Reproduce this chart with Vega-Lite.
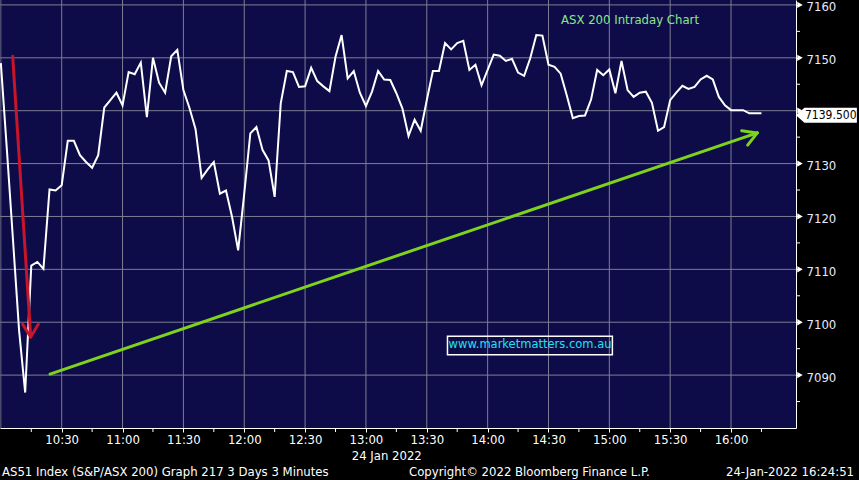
{
  "$schema": "https://vega.github.io/schema/vega-lite/v6.json",
  "width": 796,
  "height": 428,
  "autosize": {"type": "none"},
  "padding": {"left": 0, "top": 0, "right": 63, "bottom": 52},
  "background": "#000000",
  "config": {
    "view": {"fill": "#0e0c48", "stroke": null}
  },
  "datasets": {
    "price": [
      {"t": "2022-01-24T10:00:00Z", "v": 7149.0},
      {"t": "2022-01-24T10:03:00Z", "v": 7132.5},
      {"t": "2022-01-24T10:06:00Z", "v": 7115.5},
      {"t": "2022-01-24T10:09:00Z", "v": 7098.4},
      {"t": "2022-01-24T10:12:00Z", "v": 7086.7},
      {"t": "2022-01-24T10:15:00Z", "v": 7110.7},
      {"t": "2022-01-24T10:18:00Z", "v": 7111.4},
      {"t": "2022-01-24T10:21:00Z", "v": 7110.1},
      {"t": "2022-01-24T10:24:00Z", "v": 7125.1},
      {"t": "2022-01-24T10:27:00Z", "v": 7124.9},
      {"t": "2022-01-24T10:30:00Z", "v": 7125.9},
      {"t": "2022-01-24T10:33:00Z", "v": 7134.3},
      {"t": "2022-01-24T10:36:00Z", "v": 7134.3},
      {"t": "2022-01-24T10:39:00Z", "v": 7131.6},
      {"t": "2022-01-24T10:42:00Z", "v": 7130.3},
      {"t": "2022-01-24T10:45:00Z", "v": 7129.2},
      {"t": "2022-01-24T10:48:00Z", "v": 7131.6},
      {"t": "2022-01-24T10:51:00Z", "v": 7140.6},
      {"t": "2022-01-24T10:54:00Z", "v": 7142.0},
      {"t": "2022-01-24T10:57:00Z", "v": 7143.4},
      {"t": "2022-01-24T11:00:00Z", "v": 7141.0},
      {"t": "2022-01-24T11:03:00Z", "v": 7147.3},
      {"t": "2022-01-24T11:06:00Z", "v": 7146.9},
      {"t": "2022-01-24T11:09:00Z", "v": 7149.1},
      {"t": "2022-01-24T11:12:00Z", "v": 7138.8},
      {"t": "2022-01-24T11:15:00Z", "v": 7150.0},
      {"t": "2022-01-24T11:18:00Z", "v": 7145.3},
      {"t": "2022-01-24T11:21:00Z", "v": 7143.4},
      {"t": "2022-01-24T11:24:00Z", "v": 7150.3},
      {"t": "2022-01-24T11:27:00Z", "v": 7151.5},
      {"t": "2022-01-24T11:30:00Z", "v": 7143.9},
      {"t": "2022-01-24T11:33:00Z", "v": 7140.5},
      {"t": "2022-01-24T11:36:00Z", "v": 7136.5},
      {"t": "2022-01-24T11:39:00Z", "v": 7127.3},
      {"t": "2022-01-24T11:42:00Z", "v": 7128.9},
      {"t": "2022-01-24T11:45:00Z", "v": 7130.3},
      {"t": "2022-01-24T11:48:00Z", "v": 7124.3},
      {"t": "2022-01-24T11:51:00Z", "v": 7124.9},
      {"t": "2022-01-24T11:54:00Z", "v": 7119.9},
      {"t": "2022-01-24T11:57:00Z", "v": 7113.6},
      {"t": "2022-01-24T12:00:00Z", "v": 7124.3},
      {"t": "2022-01-24T12:03:00Z", "v": 7135.7},
      {"t": "2022-01-24T12:06:00Z", "v": 7136.9},
      {"t": "2022-01-24T12:09:00Z", "v": 7132.6},
      {"t": "2022-01-24T12:12:00Z", "v": 7130.6},
      {"t": "2022-01-24T12:15:00Z", "v": 7123.7},
      {"t": "2022-01-24T12:18:00Z", "v": 7141.4},
      {"t": "2022-01-24T12:21:00Z", "v": 7147.5},
      {"t": "2022-01-24T12:24:00Z", "v": 7147.3},
      {"t": "2022-01-24T12:27:00Z", "v": 7144.5},
      {"t": "2022-01-24T12:30:00Z", "v": 7144.6},
      {"t": "2022-01-24T12:33:00Z", "v": 7148.1},
      {"t": "2022-01-24T12:36:00Z", "v": 7145.6},
      {"t": "2022-01-24T12:39:00Z", "v": 7144.6},
      {"t": "2022-01-24T12:42:00Z", "v": 7143.7},
      {"t": "2022-01-24T12:45:00Z", "v": 7150.2},
      {"t": "2022-01-24T12:48:00Z", "v": 7154.3},
      {"t": "2022-01-24T12:51:00Z", "v": 7146.1},
      {"t": "2022-01-24T12:54:00Z", "v": 7147.5},
      {"t": "2022-01-24T12:57:00Z", "v": 7143.4},
      {"t": "2022-01-24T13:00:00Z", "v": 7140.9},
      {"t": "2022-01-24T13:03:00Z", "v": 7143.6},
      {"t": "2022-01-24T13:06:00Z", "v": 7147.5},
      {"t": "2022-01-24T13:09:00Z", "v": 7145.9},
      {"t": "2022-01-24T13:12:00Z", "v": 7145.8},
      {"t": "2022-01-24T13:15:00Z", "v": 7143.3},
      {"t": "2022-01-24T13:18:00Z", "v": 7140.4},
      {"t": "2022-01-24T13:21:00Z", "v": 7135.2},
      {"t": "2022-01-24T13:24:00Z", "v": 7138.3},
      {"t": "2022-01-24T13:27:00Z", "v": 7136.2},
      {"t": "2022-01-24T13:30:00Z", "v": 7142.0},
      {"t": "2022-01-24T13:33:00Z", "v": 7147.5},
      {"t": "2022-01-24T13:36:00Z", "v": 7147.5},
      {"t": "2022-01-24T13:39:00Z", "v": 7152.8},
      {"t": "2022-01-24T13:42:00Z", "v": 7151.6},
      {"t": "2022-01-24T13:45:00Z", "v": 7152.8},
      {"t": "2022-01-24T13:48:00Z", "v": 7153.2},
      {"t": "2022-01-24T13:51:00Z", "v": 7147.7},
      {"t": "2022-01-24T13:54:00Z", "v": 7148.7},
      {"t": "2022-01-24T13:57:00Z", "v": 7144.8},
      {"t": "2022-01-24T14:00:00Z", "v": 7147.7},
      {"t": "2022-01-24T14:03:00Z", "v": 7150.6},
      {"t": "2022-01-24T14:06:00Z", "v": 7150.4},
      {"t": "2022-01-24T14:09:00Z", "v": 7149.4},
      {"t": "2022-01-24T14:12:00Z", "v": 7149.8},
      {"t": "2022-01-24T14:15:00Z", "v": 7147.2},
      {"t": "2022-01-24T14:18:00Z", "v": 7146.6},
      {"t": "2022-01-24T14:21:00Z", "v": 7149.9},
      {"t": "2022-01-24T14:24:00Z", "v": 7154.3},
      {"t": "2022-01-24T14:27:00Z", "v": 7154.2},
      {"t": "2022-01-24T14:30:00Z", "v": 7148.7},
      {"t": "2022-01-24T14:33:00Z", "v": 7148.3},
      {"t": "2022-01-24T14:36:00Z", "v": 7147.0},
      {"t": "2022-01-24T14:39:00Z", "v": 7142.9},
      {"t": "2022-01-24T14:42:00Z", "v": 7138.6},
      {"t": "2022-01-24T14:45:00Z", "v": 7139.0},
      {"t": "2022-01-24T14:48:00Z", "v": 7139.1},
      {"t": "2022-01-24T14:51:00Z", "v": 7142.1},
      {"t": "2022-01-24T14:54:00Z", "v": 7147.7},
      {"t": "2022-01-24T14:57:00Z", "v": 7146.7},
      {"t": "2022-01-24T15:00:00Z", "v": 7147.8},
      {"t": "2022-01-24T15:03:00Z", "v": 7143.3},
      {"t": "2022-01-24T15:06:00Z", "v": 7149.4},
      {"t": "2022-01-24T15:09:00Z", "v": 7143.9},
      {"t": "2022-01-24T15:12:00Z", "v": 7142.6},
      {"t": "2022-01-24T15:15:00Z", "v": 7143.4},
      {"t": "2022-01-24T15:18:00Z", "v": 7143.6},
      {"t": "2022-01-24T15:21:00Z", "v": 7141.5},
      {"t": "2022-01-24T15:24:00Z", "v": 7136.2},
      {"t": "2022-01-24T15:27:00Z", "v": 7136.9},
      {"t": "2022-01-24T15:30:00Z", "v": 7142.0},
      {"t": "2022-01-24T15:33:00Z", "v": 7143.4},
      {"t": "2022-01-24T15:36:00Z", "v": 7144.7},
      {"t": "2022-01-24T15:39:00Z", "v": 7144.1},
      {"t": "2022-01-24T15:42:00Z", "v": 7144.5},
      {"t": "2022-01-24T15:45:00Z", "v": 7145.9},
      {"t": "2022-01-24T15:48:00Z", "v": 7146.6},
      {"t": "2022-01-24T15:51:00Z", "v": 7145.9},
      {"t": "2022-01-24T15:54:00Z", "v": 7142.6},
      {"t": "2022-01-24T15:57:00Z", "v": 7141.0},
      {"t": "2022-01-24T16:00:00Z", "v": 7140.1},
      {"t": "2022-01-24T16:03:00Z", "v": 7140.1},
      {"t": "2022-01-24T16:06:00Z", "v": 7140.1},
      {"t": "2022-01-24T16:09:00Z", "v": 7139.5},
      {"t": "2022-01-24T16:12:00Z", "v": 7139.5},
      {"t": "2022-01-24T16:15:00Z", "v": 7139.5}
    ],
    "arrows": [
      {"arrow": "down", "t": "2022-01-24T10:05:50Z", "v": 7150.3, "t2": "2022-01-24T10:14:43Z", "v2": 7097.2},
      {"arrow": "down", "t": "2022-01-24T10:10:46Z", "v": 7099.6, "t2": "2022-01-24T10:14:43Z", "v2": 7097.2},
      {"arrow": "down", "t": "2022-01-24T10:18:28Z", "v": 7099.6, "t2": "2022-01-24T10:14:43Z", "v2": 7097.2},
      {"arrow": "up", "t": "2022-01-24T10:24:14Z", "v": 7090.2, "t2": "2022-01-24T16:12:57Z", "v2": 7135.8},
      {"arrow": "up", "t": "2022-01-24T16:05:15Z", "v": 7136.2, "t2": "2022-01-24T16:12:57Z", "v2": 7135.8},
      {"arrow": "up", "t": "2022-01-24T16:08:12Z", "v": 7133.5, "t2": "2022-01-24T16:12:57Z", "v2": 7135.8}
    ],
    "footer": [
      {"label": "AS51 Index (S&P/ASX 200) Graph 217 3 Days 3 Minutes", "t": "2022-01-24T10:00:34Z", "v": 7071.6},
      {"label": "Copyright\u00a9 2022 Bloomberg Finance L.P.", "t": "2022-01-24T13:21:14Z", "v": 7071.6},
      {"label": "24-Jan-2022 16:24:51", "t": "2022-01-24T15:57:30Z", "v": 7071.6},
      {"label": "24 Jan 2022", "t": "2022-01-24T12:52:59Z", "v": 7074.8}
    ],
    "yticks": [
      {"v": 7090}, {"v": 7100}, {"v": 7110}, {"v": 7120},
      {"v": 7130}, {"v": 7140}, {"v": 7150}, {"v": 7160}
    ],
    "yminor": [
      {"v": 7085}, {"v": 7095}, {"v": 7105}, {"v": 7115},
      {"v": 7125}, {"v": 7135}, {"v": 7145}, {"v": 7155}
    ],
    "xgrid": [
      {"t": "2022-01-24T10:30:00Z"}, {"t": "2022-01-24T11:00:00Z"}, {"t": "2022-01-24T11:30:00Z"},
      {"t": "2022-01-24T12:00:00Z"}, {"t": "2022-01-24T12:30:00Z"}, {"t": "2022-01-24T13:00:00Z"},
      {"t": "2022-01-24T13:30:00Z"}, {"t": "2022-01-24T14:00:00Z"}, {"t": "2022-01-24T14:30:00Z"},
      {"t": "2022-01-24T15:00:00Z"}, {"t": "2022-01-24T15:30:00Z"}, {"t": "2022-01-24T16:00:00Z"}
    ],
    "xminor": [
      {"t": "2022-01-24T10:15:00Z"}, {"t": "2022-01-24T10:45:00Z"}, {"t": "2022-01-24T11:15:00Z"},
      {"t": "2022-01-24T11:45:00Z"}, {"t": "2022-01-24T12:15:00Z"}, {"t": "2022-01-24T12:45:00Z"},
      {"t": "2022-01-24T13:15:00Z"}, {"t": "2022-01-24T13:45:00Z"}, {"t": "2022-01-24T14:15:00Z"},
      {"t": "2022-01-24T14:45:00Z"}, {"t": "2022-01-24T15:15:00Z"}, {"t": "2022-01-24T15:45:00Z"},
      {"t": "2022-01-24T16:15:00Z"}
    ]
  },
  "layer": [
    {
      "data": {"name": "xgrid"},
      "mark": {"type": "rule", "stroke": "#7d7d92", "strokeWidth": 1, "opacity": 1},
      "encoding": {"x": {"field": "t", "type": "temporal"}}
    },
    {
      "data": {"name": "yticks"},
      "mark": {"type": "rule", "stroke": "#7d7d92", "strokeWidth": 1, "opacity": 1},
      "encoding": {"y": {"field": "v", "type": "quantitative"}}
    },
    {
      "data": {"values": [{"t": "2022-01-24T10:00:00Z"}]},
      "mark": {"type": "rule", "stroke": "#6a6a80", "strokeWidth": 1, "opacity": 1},
      "encoding": {"x": {"field": "t", "type": "temporal"}}
    },
    {
      "data": {"name": "price"},
      "mark": {"type": "line", "color": "#ffffff", "strokeWidth": 2},
      "encoding": {
        "x": {
          "field": "t",
          "type": "temporal",
          "title": null,
          "scale": {
            "type": "utc",
            "domain": [
              {"year": 2022, "month": 1, "date": 24, "hours": 9, "minutes": 59, "seconds": 35, "utc": true},
              {"year": 2022, "month": 1, "date": 24, "hours": 16, "minutes": 32, "seconds": 2, "utc": true}
            ],
            "nice": false
          },
          "axis": {
            "orient": "bottom",
            "values": [1643020200000, 1643022000000, 1643023800000, 1643025600000, 1643027400000, 1643029200000, 1643031000000, 1643032800000, 1643034600000, 1643036400000, 1643038200000, 1643040000000],
            "format": "%H:%M",
            "labelFont": "DejaVu Sans Condensed",
            "labelFontSize": 13,
            "labelColor": "#ffffff",
            "labelPadding": 1,
            "labelDx": 2,
            "labelFlush": false,
            "labelOverlap": false,
            "domainColor": "#ffffff",
            "domainWidth": 1,
            "tickColor": "#ffffff",
            "tickSize": 4,
            "grid": false
          }
        },
        "y": {
          "field": "v",
          "type": "quantitative",
          "title": null,
          "scale": {"domain": [7080, 7160.93], "nice": false, "zero": false},
          "axis": {
            "orient": "right",
            "values": [7090, 7100, 7110, 7120, 7130, 7150, 7160],
            "format": "d",
            "labelFont": "DejaVu Sans Condensed",
            "labelFontSize": 13,
            "labelColor": "#e6ebff",
            "labelPadding": 6,
            "labelOffset": 2,
            "labelOverlap": false,
            "domainColor": "#ffffff",
            "domainWidth": 1,
            "tickColor": "#ffffff",
            "tickSize": 4,
            "grid": false
          }
        }
      }
    },
    {
      "data": {"values": [{"t": "2022-01-24T13:40:12Z", "t2": "2022-01-24T15:01:30Z", "v": 7097.35, "v2": 7093.83}]},
      "mark": {"type": "rect", "fill": null, "fillOpacity": 0, "stroke": "#ffffff", "strokeWidth": 1.5},
      "encoding": {
        "x": {"field": "t", "type": "temporal"},
        "x2": {"field": "t2"},
        "y": {"field": "v", "type": "quantitative"},
        "y2": {"field": "v2"}
      }
    },
    {
      "data": {"values": [{"label": "www.marketmatters.com.au", "t": "2022-01-24T14:20:54Z", "v": 7095.6}]},
      "mark": {"type": "text", "color": "#20e0f2", "font": "DejaVu Sans", "fontSize": 11.5, "align": "center", "baseline": "middle"},
      "encoding": {
        "x": {"field": "t", "type": "temporal"},
        "y": {"field": "v", "type": "quantitative"},
        "text": {"field": "label"}
      }
    },
    {
      "data": {"values": [{"label": "ASX 200 Intraday Chart", "t": "2022-01-24T15:10:11Z", "v": 7157.1}]},
      "mark": {"type": "text", "color": "#8be68c", "font": "DejaVu Sans Condensed", "fontSize": 13, "align": "center", "baseline": "middle"},
      "encoding": {
        "x": {"field": "t", "type": "temporal"},
        "y": {"field": "v", "type": "quantitative"},
        "text": {"field": "label"}
      }
    },
    {
      "data": {"name": "arrows"},
      "mark": {"type": "rule", "strokeWidth": 3, "strokeCap": "round"},
      "encoding": {
        "x": {"field": "t", "type": "temporal"},
        "x2": {"field": "t2"},
        "y": {"field": "v", "type": "quantitative"},
        "y2": {"field": "v2"},
        "color": {"field": "arrow", "type": "nominal", "scale": {"domain": ["down", "up"], "range": ["#c8142c", "#7ed31c"]}, "legend": null}
      }
    },
    {
      "data": {"name": "yticks"},
      "mark": {"type": "point", "shape": "triangle-right", "filled": true, "color": "#ffffff", "opacity": 1, "size": 40, "xOffset": 4},
      "encoding": {
        "x": {"value": "width"},
        "y": {"field": "v", "type": "quantitative"}
      }
    },
    {
      "data": {"name": "yminor"},
      "mark": {"type": "point", "shape": "M0,0L2,0", "filled": false, "color": "#ffffff", "opacity": 1, "size": 16, "strokeWidth": 1},
      "encoding": {
        "x": {"value": "width"},
        "y": {"field": "v", "type": "quantitative"}
      }
    },
    {
      "data": {"name": "xminor"},
      "mark": {"type": "point", "shape": "M0,0L0,2", "filled": false, "color": "#ffffff", "opacity": 1, "size": 16, "strokeWidth": 1},
      "encoding": {
        "x": {"field": "t", "type": "temporal"},
        "y": {"value": "height"}
      }
    },
    {
      "data": {"values": [{"label": "7139.500", "v": 7139.5}]},
      "mark": {"type": "point", "shape": "M0,0L0.28,-0.25L2.03,-0.25L2.03,0.25L0.28,0.25Z", "filled": true, "color": "#ffffff", "opacity": 1, "size": 3600, "strokeWidth": 0, "yOffset": 2},
      "encoding": {
        "x": {"value": "width"},
        "y": {"field": "v", "type": "quantitative"}
      }
    },
    {
      "data": {"values": [{"label": "7139.500", "v": 7139.5}]},
      "mark": {"type": "text", "color": "#000000", "font": "DejaVu Sans Condensed", "fontSize": 12, "align": "left", "baseline": "middle", "dx": 9, "dy": 2},
      "encoding": {
        "x": {"value": "width"},
        "y": {"field": "v", "type": "quantitative"},
        "text": {"field": "label"}
      }
    },
    {
      "data": {"name": "footer"},
      "mark": {"type": "text", "color": "#ffffff", "font": "DejaVu Sans Condensed", "fontSize": 13, "align": "left", "baseline": "middle"},
      "encoding": {
        "x": {"field": "t", "type": "temporal"},
        "y": {"field": "v", "type": "quantitative"},
        "text": {"field": "label"}
      }
    }
  ]
}
